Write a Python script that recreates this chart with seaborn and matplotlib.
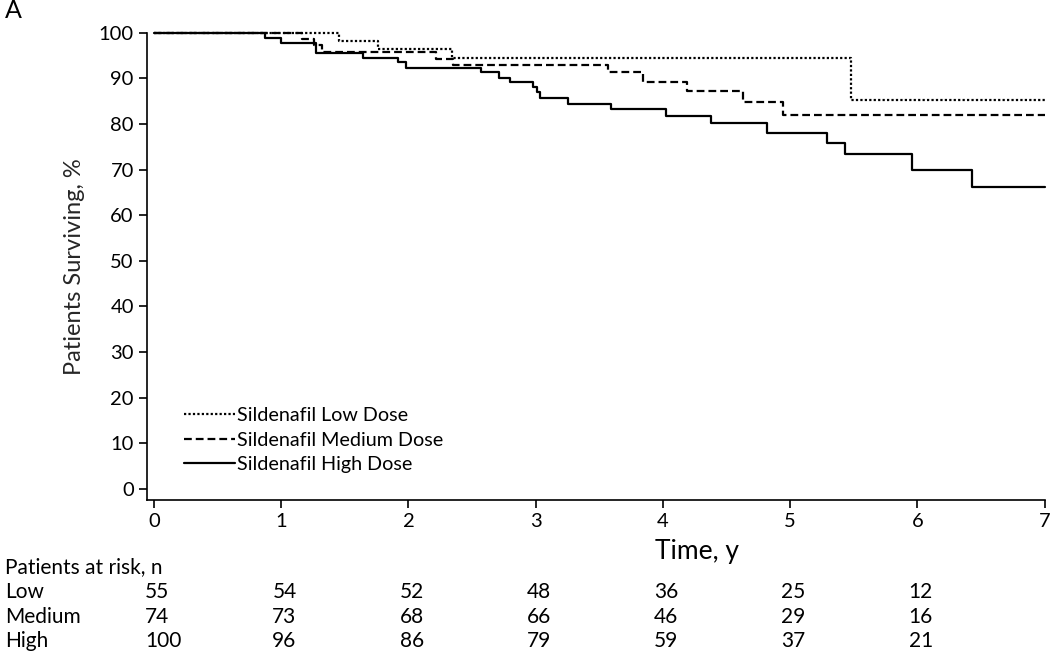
import matplotlib
matplotlib.use('Agg')
import matplotlib.pyplot as plt
import matplotlib.transforms as mtransforms
import seaborn as sns
import pandas as pd

# Kaplan-Meier step data
low_t = [0, 1.45, 1.76, 2.34, 5.475, 7.0]
low_s = [100, 98.2, 96.4, 94.4, 85.2, 85.2]

med_t = [0, 1.16, 1.26, 1.32, 2.22, 2.35, 3.57, 3.84, 4.19, 4.63, 4.94, 7.0]
med_s = [100, 98.6, 97.3, 95.8, 94.3, 92.9, 91.3, 89.3, 87.3, 84.9, 82.0, 82.0]

high_t = [0, 0.87, 1.0, 1.27, 1.64, 1.92, 1.98, 2.57, 2.71, 2.80, 2.98, 3.01,
          3.03, 3.25, 3.59, 4.02, 4.38, 4.82, 5.29, 5.43, 5.96, 6.43, 7.0]
high_s = [100, 98.9, 97.8, 95.5, 94.4, 93.6, 92.3, 91.3, 90.1, 89.2, 88.2, 87.1,
          85.8, 84.4, 83.3, 81.7, 80.3, 78.0, 75.9, 73.5, 70.0, 66.1, 66.1]

groups = ["Low", "Medium", "High"]
legend_labels = ["Sildenafil Low Dose", "Sildenafil Medium Dose", "Sildenafil High Dose"]

# Patients at risk table
risk_times = [0, 1, 2, 3, 4, 5, 6]
risk_low = [55, 54, 52, 48, 36, 25, 12]
risk_med = [74, 73, 68, 66, 46, 29, 16]
risk_high = [100, 96, 86, 79, 59, 37, 21]

df = pd.concat([
    pd.DataFrame({"time": low_t, "surv": low_s, "group": "Low"}),
    pd.DataFrame({"time": med_t, "surv": med_s, "group": "Medium"}),
    pd.DataFrame({"time": high_t, "surv": high_s, "group": "High"}),
], ignore_index=True)

sns.set_theme(style="ticks")
plt.rcParams['font.family'] = ['Lato', 'DejaVu Sans']
plt.rcParams.update({
    'axes.linewidth': 1.2,
    'xtick.major.width': 1.2,
    'ytick.major.width': 1.2,
    'xtick.major.size': 6,
    'ytick.major.size': 6,
    'text.color': 'black',
    'xtick.color': 'black',
    'ytick.color': 'black',
    'axes.edgecolor': 'black',
})

fig = plt.figure(figsize=(10.5, 6.56), dpi=100)
ax = fig.add_axes([0.14, 0.238, 0.855, 0.712])

sns.lineplot(data=df, x="time", y="surv", hue="group", style="group",
             hue_order=groups, style_order=groups,
             palette={"Low": "black", "Medium": "black", "High": "black"},
             dashes={"Low": (1, 1), "Medium": (3.5, 1.8), "High": ""},
             estimator=None, sort=False, drawstyle="steps-post",
             linewidth=1.6, legend=False, ax=ax, clip_on=False)

ax.set_xlim(-0.055, 7)
ax.set_ylim(-2.4, 100)
ax.set_xticks(range(0, 8))
ax.set_yticks(range(0, 101, 10))
ax.tick_params(labelsize=14.5)
ax.set_xlabel("")
ax.set_ylabel("Patients Surviving, %", fontsize=17, labelpad=10)
sns.despine(ax=ax)

ax.legend(ax.lines[:3], legend_labels, loc="lower left",
          bbox_to_anchor=(0.032, 0.04), frameon=False, fontsize=14.2,
          handlelength=2.6, handletextpad=0.1, labelspacing=0.38,
          borderaxespad=0)

# x label sits below the tick labels, centred near t = 4.3
trans = mtransforms.blended_transform_factory(ax.transData, fig.transFigure)
ax.text(4.27, 1 - 551 / 656, "Time, y", fontsize=19, ha="center", va="center",
        transform=trans)

fig.text(0.005, 1 - 11 / 656, "A", fontsize=18, ha="left", va="center")

fig.text(0.005, 1 - 567 / 656, "Patients at risk, n", fontsize=15, ha="left", va="center")
rows = [("Low", risk_low, 592), ("Medium", risk_med, 617), ("High", risk_high, 641)]
for name, vals, ypix in rows:
    yf = 1 - ypix / 656
    fig.text(0.005, yf, name, fontsize=15, ha="left", va="center")
    for t, v in zip(risk_times, vals):
        ax.text(t - 0.07, yf, str(v), fontsize=15, ha="left", va="center",
                transform=trans)

fig.savefig("out.png", dpi=100, facecolor="white")
